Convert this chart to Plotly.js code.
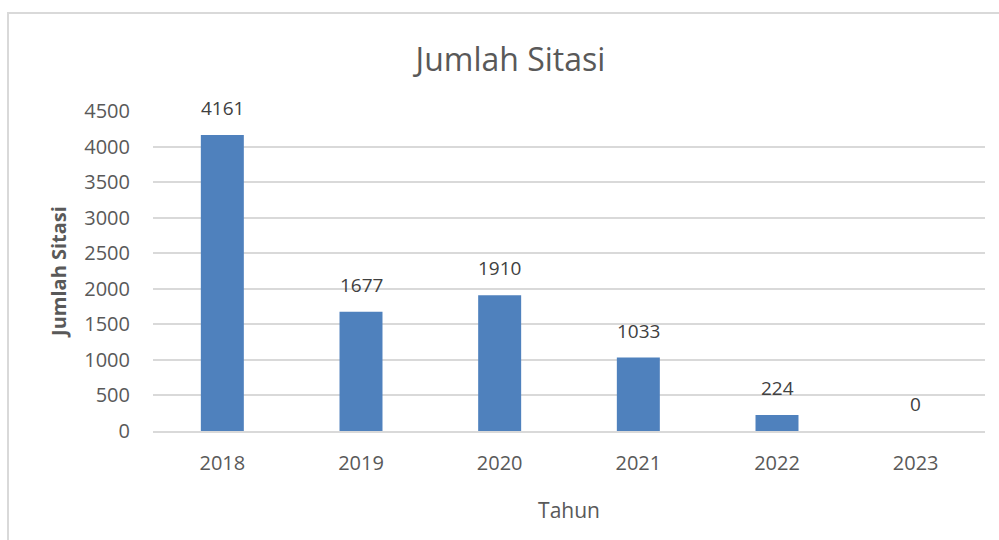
<!DOCTYPE html>
<html>
<head>
<meta charset="utf-8">
<script src="https://cdn.plot.ly/plotly-3.0.1.min.js"></script>
<style>
html,body{margin:0;padding:0;background:#fff;overflow:hidden;}
#frame{position:absolute;left:7px;top:12px;width:1010px;height:540px;border:2px solid #d9d9d9;box-sizing:border-box;}
#chart{position:absolute;left:0;top:0;width:999px;height:540px;}
</style>
</head>
<body>
<div id="frame"></div>
<div id="chart"></div>
<script>
const years = ['2018', '2019', '2020', '2021', '2022', '2023'];
const citations = [4161, 1677, 1910, 1033, 224, 0];
const yTicks = [0, 500, 1000, 1500, 2000, 2500, 3000, 3500, 4000, 4500];

const FONT = 'Open Sans, Liberation Sans, sans-serif';
const idx = years.map((_, i) => i);

const trace = {
  type: 'bar',
  x: idx,
  y: citations,
  marker: {color: '#4f81bd'},
  hoverinfo: 'skip'
};

const annotations = idx.map(i => ({
  x: i, y: citations[i], xref: 'x', yref: 'y',
  text: String(citations[i]), showarrow: false,
  yanchor: 'bottom', yshift: 12,
  font: {family: FONT, size: 19, color: '#404040'}
}));

const layout = {
  width: 999, height: 540,
  margin: {l: 153, r: 14, t: 111, b: 109},
  paper_bgcolor: 'rgba(0,0,0,0)',
  plot_bgcolor: 'rgba(0,0,0,0)',
  bargap: 0.69,
  showlegend: false,
  title: {
    text: 'Jumlah Sitasi',
    x: 0.511, xanchor: 'center', y: 0.89, yanchor: 'middle',
    font: {family: FONT, size: 32, color: '#595959'}
  },
  xaxis: {
    range: [-0.5, years.length - 0.5],
    tickvals: idx, ticktext: years,
    showgrid: false, zeroline: false,
    showline: true, linecolor: '#d9d9d9', linewidth: 2,
    ticks: '', ticklabelstandoff: 13,
    tickfont: {family: FONT, size: 20, color: '#595959'},
    title: {text: 'Tahun', standoff: 28, font: {family: FONT, size: 21, color: '#595959'}}
  },
  yaxis: {
    range: [0, 4500],
    tickvals: yTicks,
    ticktext: yTicks.map(String),
    showgrid: true, gridcolor: '#d9d9d9', gridwidth: 2,
    zeroline: false, showline: false,
    ticks: '', ticklabelstandoff: 22,
    tickfont: {family: FONT, size: 20, color: '#595959'},
    title: {text: '<b>Jumlah Sitasi</b>', standoff: 12, font: {family: FONT, size: 20, color: '#595959'}}
  },
  annotations: annotations
};

Plotly.newPlot('chart', [trace], layout, {displayModeBar: false, staticPlot: true});
</script>
</body>
</html>
